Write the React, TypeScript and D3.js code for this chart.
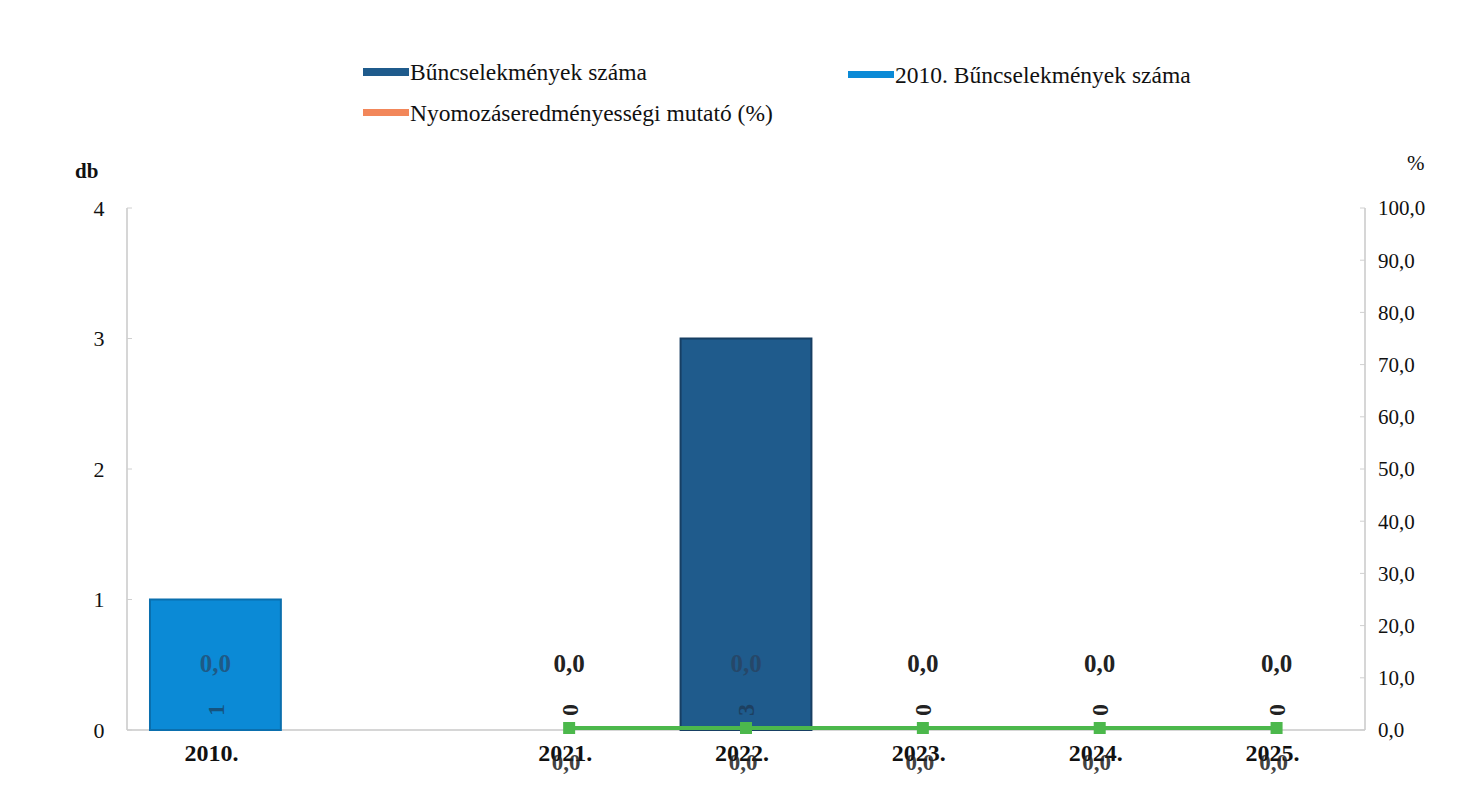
import React from "react";
import * as d3 from "d3";

const categories = ["2010.", "", "2021.", "2022.", "2023.", "2024.", "2025."];
const countCurrent: (number | null)[] = [null, null, 0, 3, 0, 0, 0];
const count2010: (number | null)[] = [1, null, null, null, null, null, null];
const percentLabels: (number | null)[] = [0, null, 0, 0, 0, 0, 0];
const lineValues: (number | null)[] = [null, null, 0, 0, 0, 0, 0];
const leftTicks = [0, 1, 2, 3, 4];
const rightTicks = [0, 10, 20, 30, 40, 50, 60, 70, 80, 90, 100];

const W = 1459;
const H = 812;
const FONT = "'Liberation Serif', 'Times New Roman', serif";
const C_DARK = "#1f5b8c";
const C_LIGHT = "#0b8ad6";
const C_ORANGE = "#f2875a";
const C_GREEN = "#4cb84c";

export default function App() {
  const x0 = 127, x1 = 1365, yTop = 208, yBot = 730;
  const x = d3.scaleBand<string>().domain(categories.map((c, i) => String(i))).range([x0, x1]).paddingInner(0.26).paddingOuter(0.13);
  const yL = d3.scaleLinear().domain([0, 4]).range([yBot, yTop]);
  const yR = d3.scaleLinear().domain([0, 100]).range([yBot, yTop]);
  const cx = (i: number) => (x(String(i)) as number) + x.bandwidth() / 2;
  const fmt = (v: number) => v.toFixed(1).replace(".", ",");

  const linePts = lineValues.map((v, i) => (v == null ? null : [cx(i), yR(v) - 2] as [number, number])).filter(Boolean) as [number, number][];
  const lineGen = d3.line();

  const bars = (vals: (number | null)[], color: string, edge: string) =>
    vals.map((v, i) =>
      v == null || v === 0 ? null : (
        <rect key={i} x={x(String(i))} y={yL(v)} width={x.bandwidth()} height={yBot - yL(v)} fill={color} stroke={edge} strokeWidth={2} />
      )
    );

  return (
    <svg width={W} height={H} style={{ display: "block", position: "absolute", left: 0, top: 0, background: "#fff" }} fontFamily={FONT}>
      <rect width={W} height={H} fill="#fff" />
      {/* legend */}
      <g fontSize={23.5} fill="#111">
        <rect x={363} y={68} width={46} height={8} fill={C_DARK} />
        <text x={410} y={80}>Bűncselekmények száma</text>
        <rect x={848} y={71} width={46} height={7} fill={C_LIGHT} />
        <text x={895} y={83}>2010. Bűncselekmények száma</text>
        <rect x={363} y={109} width={46} height={7} fill={C_ORANGE} />
        <text x={410} y={121}>Nyomozáseredményességi mutató (%)</text>
      </g>
      {/* axis titles */}
      <text x={75} y={178} fontSize={21} fontWeight="bold" fill="#111">db</text>
      <text x={1407} y={170} fontSize={21} fill="#111">%</text>
      {/* axes */}
      <line x1={x0} x2={x0} y1={yTop} y2={yBot} stroke="#c8c8c8" strokeWidth={1.5} />
      <line x1={x1} x2={x1} y1={yTop} y2={yBot} stroke="#c8c8c8" strokeWidth={1.5} />
      <line x1={x0} x2={x1} y1={yBot} y2={yBot} stroke="#c8c8c8" strokeWidth={1.5} />
      {leftTicks.map((t) => (
        <g key={t}>
          <line x1={x0} x2={x0 + 5} y1={yL(t)} y2={yL(t)} stroke="#d0d0d0" />
          <text x={99} y={yL(t)} dy="0.35em" fontSize={22} textAnchor="middle" fill="#111">{t}</text>
        </g>
      ))}
      {rightTicks.map((t) => (
        <g key={t}>
          <line x1={x1 - 5} x2={x1} y1={yR(t)} y2={yR(t)} stroke="#d0d0d0" />
          <text x={1378} y={yR(t)} dy="0.35em" fontSize={21} fill="#111">{fmt(t)}</text>
        </g>
      ))}
      {/* bars */}
      {bars(count2010, C_LIGHT, "#0a6fae")}
      {bars(countCurrent, C_DARK, "#173f63")}
      {/* percent labels */}
      {percentLabels.map((v, i) => {
        if (v == null) return null;
        const over = (count2010[i] ?? 0) > 0 || (countCurrent[i] ?? 0) > 0;
        return (
          <text key={i} x={cx(i)} y={yBot - 58} textAnchor="middle" fontSize={25} fontWeight="bold" fill={over ? "#2b3b52" : "#222"} opacity={over ? 0.6 : 1}>
            {fmt(v)}
          </text>
        );
      })}
      {/* rotated count labels */}
      {categories.map((c, i) => {
        const v = count2010[i] ?? countCurrent[i];
        if (v == null) return null;
        const over = v > 0;
        return (
          <text key={i} transform={`translate(${cx(i)},${yBot - 20}) rotate(-90)`} textAnchor="middle" dy="0.35em" fontSize={24} fontWeight="bold" fill={over ? "#1d2f45" : "#222"} opacity={over ? 0.6 : 1}>
            {v}
          </text>
        );
      })}
      {/* green line */}
      <path d={lineGen(linePts) || ""} fill="none" stroke={C_GREEN} strokeWidth={4} />
      {linePts.map((p, i) => (
        <rect key={i} x={p[0] - 6} y={p[1] - 6} width={12} height={12} fill={C_GREEN} />
      ))}
      {/* category labels */}
      {categories.map((c, i) => (
        <text key={i} x={cx(i) - 4} y={yBot + 31} textAnchor="middle" fontSize={24} fontWeight="bold" fill="#111">{c}</text>
      ))}
      {/* line value labels below */}
      {lineValues.map((v, i) =>
        v == null ? null : (
          <text key={i} x={cx(i) - 3} y={yBot + 40} textAnchor="middle" fontSize={23} fontWeight="bold" fill="#222" opacity={0.85}>{fmt(v)}</text>
        )
      )}
    </svg>
  );
}
